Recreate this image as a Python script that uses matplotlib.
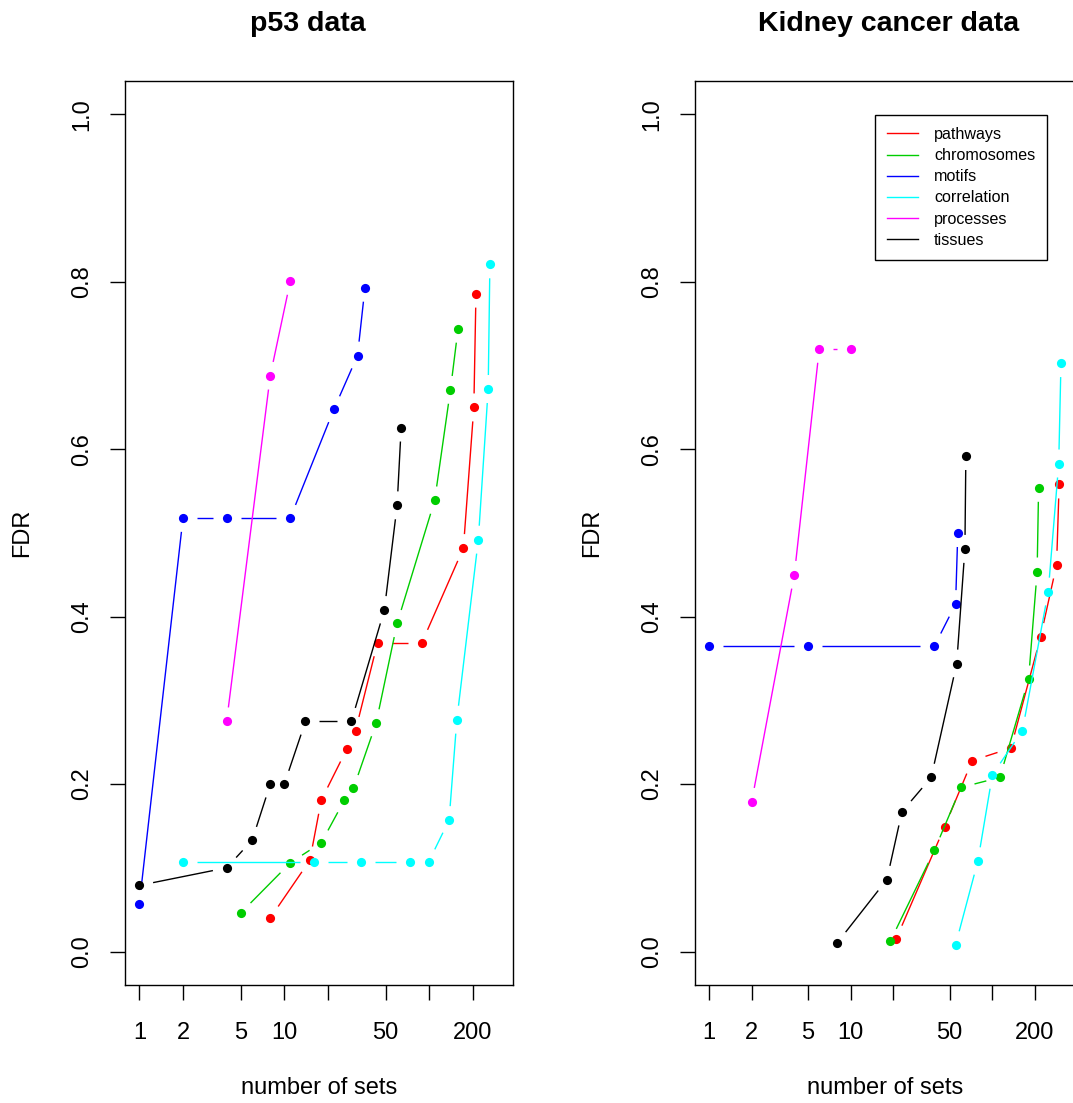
"""FDR against number of sets, p53 and kidney cancer data."""
import numpy as np
import matplotlib
matplotlib.use("Agg")
import matplotlib.pyplot as plt
from matplotlib.lines import Line2D

plt.rcParams["font.family"] = ["Liberation Sans", "DejaVu Sans"]

names = ["pathways", "chromosomes", "motifs", "correlation", "processes", "tissues"]
colors = ["#FF0000", "#00CD00", "#0000FF", "#00FFFF", "#FF00FF", "#000000"]

# p53 data
p53_pathways_x = [8, 15, 18, 27, 31, 44, 89, 172, 203, 210]
p53_pathways_y = [0.040, 0.109, 0.181, 0.242, 0.264, 0.369, 0.369, 0.482, 0.650, 0.786]
p53_chromosomes_x = [5, 11, 18, 26, 30, 43, 60, 109, 140, 158]
p53_chromosomes_y = [0.046, 0.106, 0.130, 0.181, 0.195, 0.273, 0.392, 0.539, 0.671, 0.744]
p53_motifs_x = [1, 2, 4, 11, 22, 32, 36]
p53_motifs_y = [0.057, 0.518, 0.518, 0.518, 0.648, 0.712, 0.793]
p53_correlation_x = [2, 16, 34, 74, 99, 137, 155, 218, 255, 262]
p53_correlation_y = [0.107, 0.107, 0.107, 0.107, 0.107, 0.157, 0.277, 0.492, 0.672, 0.821]
p53_processes_x = [4, 8, 11]
p53_processes_y = [0.275, 0.688, 0.801]
p53_tissues_x = [1, 4, 6, 8, 10, 14, 29, 49, 60, 64]
p53_tissues_y = [0.079, 0.100, 0.133, 0.200, 0.200, 0.275, 0.275, 0.408, 0.533, 0.626]

# kidney cancer data
kid_pathways_x = [21, 46, 72, 135, 219, 284, 296]
kid_pathways_y = [0.0155, 0.149, 0.228, 0.243, 0.376, 0.462, 0.558]
kid_chromosomes_x = [19, 39, 60, 113, 180, 207, 212]
kid_chromosomes_y = [0.012, 0.121, 0.196, 0.208, 0.325, 0.454, 0.554]
kid_motifs_x = [1, 5, 39, 55, 57]
kid_motifs_y = [0.365, 0.365, 0.365, 0.415, 0.500]
kid_correlation_x = [55, 79, 100, 163, 248, 294, 305]
kid_correlation_y = [0.008, 0.108, 0.211, 0.264, 0.430, 0.583, 0.703]
kid_processes_x = [2, 4, 6, 10]
kid_processes_y = [0.179, 0.450, 0.720, 0.720]
kid_tissues_x = [8, 18, 23, 37, 56, 64, 65]
kid_tissues_y = [0.010, 0.086, 0.167, 0.208, 0.344, 0.481, 0.592]

p53_series = [(p53_pathways_x, p53_pathways_y), (p53_chromosomes_x, p53_chromosomes_y),
              (p53_motifs_x, p53_motifs_y), (p53_correlation_x, p53_correlation_y),
              (p53_processes_x, p53_processes_y), (p53_tissues_x, p53_tissues_y)]
kid_series = [(kid_pathways_x, kid_pathways_y), (kid_chromosomes_x, kid_chromosomes_y),
              (kid_motifs_x, kid_motifs_y), (kid_correlation_x, kid_correlation_y),
              (kid_processes_x, kid_processes_y), (kid_tissues_x, kid_tissues_y)]

xticks = [1, 2, 5, 10, 20, 50, 100, 200]
xticklabels = ["1", "2", "5", "10", "", "50", "", "200"]
yticks = [0.0, 0.2, 0.4, 0.6, 0.8, 1.0]

W, H = 1073, 1103
GAP = 14  # pixels left open round each point, like R's type="b"


def draw_b(ax, x, y, color, z):
    """Points joined by lines that stop short of each point."""
    trans = ax.transData
    pts = trans.transform(np.column_stack([x, y]))
    inv = trans.inverted()
    for a, b in zip(pts[:-1], pts[1:]):
        d = b - a
        length = np.hypot(*d)
        if length <= 2 * GAP:
            continue
        u = d / length
        seg = inv.transform(np.vstack([a + u * GAP, b - u * GAP]))
        ax.plot(seg[:, 0], seg[:, 1], color=color, lw=1.0, zorder=z,
                solid_capstyle="butt")
    ax.plot(x, y, "o", color=color, ms=6.6, mec="none", zorder=z + 0.5)


def setup(ax, title, title_x):
    ax.set_xscale("log")
    ax.set_xlim(0.796, 380)
    ax.set_ylim(-0.04, 1.04)
    ax.set_xticks(xticks)
    ax.set_xticklabels(xticklabels)
    ax.xaxis.set_minor_locator(matplotlib.ticker.NullLocator())
    ax.set_yticks(yticks)
    ax.set_yticklabels(["%.1f" % v for v in yticks], rotation=90, va="center")
    ax.tick_params(length=11, width=1.0, labelsize=17)
    ax.tick_params(axis="x", pad=15.5)
    ax.tick_params(axis="y", pad=12)
    for s in ax.spines.values():
        s.set_linewidth(1.0)
    ax.set_xlabel("number of sets", fontsize=17)
    ax.xaxis.set_label_coords(0.5, -0.114)
    ax.xaxis.label.set_va("center")
    ax.set_ylabel("FDR", fontsize=17)
    ax.yaxis.label.set_va("center")
    ax.set_title(title, fontsize=20.5, fontweight="bold", x=title_x,
                 y=1.063, va="center", pad=0)


fig = plt.figure(figsize=(W / 100, H / 100), dpi=100)
ax1 = fig.add_axes([125 / W, (H - 985) / H, 388.3 / W, 904 / H])
ax2 = fig.add_axes([695 / W, (H - 985) / H, 379.5 / W, 904 / H])

setup(ax1, "p53 data", 0.470)
setup(ax2, "Kidney cancer data", 0.511)
ax1.yaxis.set_label_coords(-0.265, 0.5)
ax2.yaxis.set_label_coords(-0.271, 0.5)

for i, ((x, y), c) in enumerate(zip(p53_series, colors)):
    draw_b(ax1, x, y, c, 2 + i)
for i, ((x, y), c) in enumerate(zip(kid_series, colors)):
    draw_b(ax2, x, y, c, 2 + i)

handles = [Line2D([], [], color=c, lw=1.0) for c in colors]
leg = ax2.legend(handles, names, loc="upper right",
                 bbox_to_anchor=(1047.3 / W, 1 - 115 / H),
                 bbox_transform=fig.transFigure, borderaxespad=0,
                 fontsize=11.6, handlelength=1.9, handletextpad=1.0,
                 labelspacing=0.38, borderpad=0.75, fancybox=False,
                 framealpha=1, edgecolor="black")
leg.get_frame().set_linewidth(1.0)

fig.savefig("out.png", dpi=100)
